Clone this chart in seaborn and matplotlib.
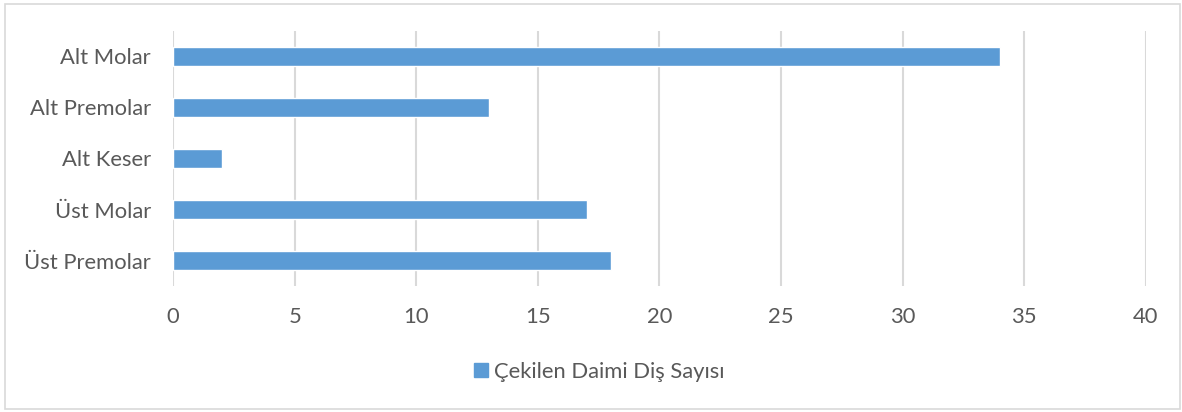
import matplotlib
matplotlib.use("Agg")
import matplotlib.pyplot as plt
import matplotlib.patches as mpatches
import seaborn as sns
import pandas as pd

# Extracted permanent teeth by tooth group
categories = ["Alt Molar", "Alt Premolar", "Alt Keser", "Üst Molar", "Üst Premolar"]
counts = [34, 13, 2, 17, 18]
series_name = "Çekilen Daimi Diş Sayısı"
x_ticks = [0, 5, 10, 15, 20, 25, 30, 35, 40]

df = pd.DataFrame({"group": categories, "count": counts})

sns.set_theme(style="white")
plt.rcParams["font.family"] = ["Lato", "DejaVu Sans"]

bar_color = "#5B9BD5"
text_color = "#595959"
grid_color = "#D9D9D9"
fs = 15.8

fig = plt.figure(figsize=(11.82, 4.12), dpi=100)
ax = fig.add_axes([0.1464, 0.3058, 0.8231, 0.6190])

sns.barplot(data=df, x="count", y="group", order=categories, color=bar_color,
            width=0.37, saturation=1, ax=ax, zorder=3)

ax.set_xlim(0, 40)
ax.set_ylim(4.5, -0.5)
ax.set_xticks(x_ticks)
ax.set_xlabel("")
ax.set_ylabel("")
for s in ax.spines.values():
    s.set_visible(False)
ax.grid(axis="x", color=grid_color, linewidth=1.5, zorder=0)
ax.grid(axis="y", visible=False)
ax.tick_params(axis="x", length=0, pad=15, labelsize=fs, labelcolor=text_color)
ax.tick_params(axis="y", length=0, pad=16, labelsize=fs, labelcolor=text_color)

handle = mpatches.Patch(color=bar_color, label=series_name)
fig.legend(handles=[handle], loc="center", bbox_to_anchor=(0.507, 0.098),
           frameon=False, fontsize=fs, labelcolor=text_color,
           handlelength=0.65, handleheight=0.65, handletextpad=0.25)

# Light chart-area border
fig.patches.append(mpatches.Rectangle((5 / 1182, 3 / 412), 1175 / 1182, 405 / 412,
                                      transform=fig.transFigure, fill=False,
                                      edgecolor="#D9D9D9", linewidth=1.2))

fig.savefig("out.png", dpi=100, facecolor="white")
